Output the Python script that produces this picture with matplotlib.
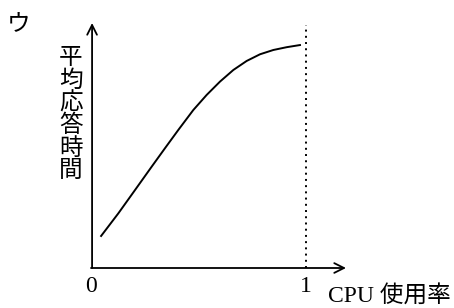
import numpy as np
from matplotlib import pyplot as plt

plt.rcParams['font.family'] = ['Liberation Serif', 'Noto Sans CJK JP', 'DejaVu Sans']

# CPU utilisation (0..1) vs. average response time (arbitrary units)
cpu_usage = [0.047, 0.127, 0.205, 0.282, 0.344, 0.406, 0.476, 0.538, 0.600,
             0.662, 0.724, 0.786, 0.848, 0.910, 0.972]
response_time = [0.149, 0.254, 0.363, 0.471, 0.557, 0.642, 0.735, 0.805, 0.867,
                 0.921, 0.963, 0.994, 1.014, 1.027, 1.037]
x_ticks = [0, 1]
x_tick_labels = ['0', '1']
panel_label = 'ウ'
y_label = '平均応答時間'
x_label = 'CPU 使用率'


def main():
    fig = plt.figure(figsize=(4.54, 3.08), dpi=100)
    ax = fig.add_axes([0, 0, 1, 1])
    # origin at pixel (91, 268), 215 px per unit
    ax.set_xlim(-91 / 215, (454 - 91) / 215)
    ax.set_ylim((268 - 308) / 215, 268 / 215)
    ax.axis('off')

    arrow = dict(arrowstyle='->, head_length=0.7, head_width=0.35', color='black', lw=1.3,
                 shrinkA=0, shrinkB=0)
    ax.annotate('', xy=(0.005, 245 / 215), xytext=(0.005, 0), arrowprops=arrow)
    ax.annotate('', xy=(255 / 215, 0), xytext=(0, 0), arrowprops=arrow)

    ax.plot([1, 1], [0, 243 / 215], color='black', lw=1.4, linestyle=(0, (1, 2.2)))
    ax.plot(cpu_usage, response_time, color='black', lw=1.4, solid_joinstyle='round')

    for xt, lab in zip(x_ticks, x_tick_labels):
        ax.text(xt, -0.085, lab, ha='center', va='center', fontsize=17)
    ax.text(1.1, -0.13, x_label, ha='left', va='center', fontsize=17)

    ax.text(-0.335, 1.13, panel_label, ha='center', va='center', fontsize=17,
            family=['Noto Sans CJK JP'])
    ax.text(-0.093, 0.715, '\n'.join(y_label), ha='center', va='center', fontsize=17,
            linespacing=0.98, family=['Noto Sans CJK JP'])

    fig.savefig('out.png', dpi=100)


if __name__ == '__main__':
    main()
